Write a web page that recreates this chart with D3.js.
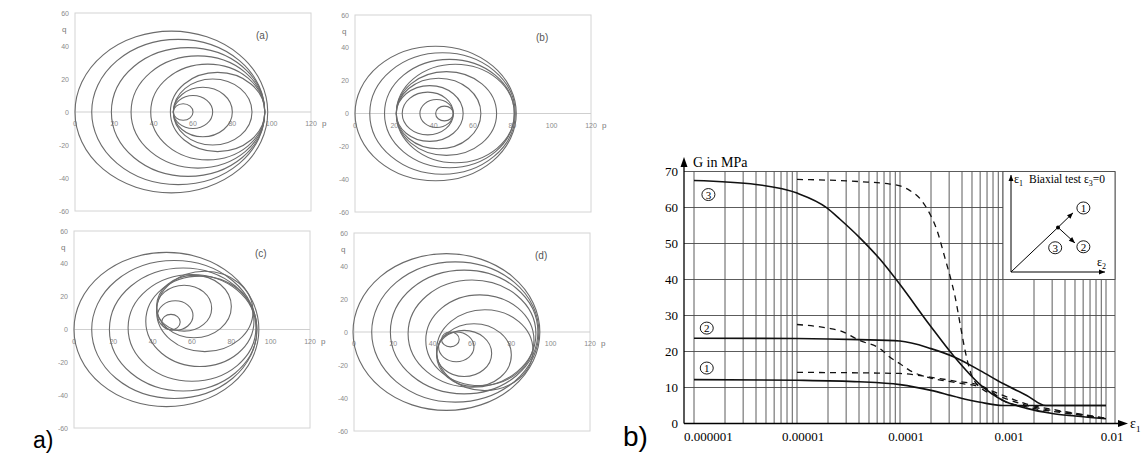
<!DOCTYPE html>
<html>
<head>
<meta charset="utf-8">
<script src="https://cdn.jsdelivr.net/npm/d3@7"></script>
<style>
  html, body { margin: 0; padding: 0; background: #fff; }
  svg { display: block; }
</style>
</head>
<body>
<div id="chart"></div>
<script>
// ---------- datos: a) superficies en el plano p-q ----------
const pTicks = [0, 20, 40, 60, 80, 100, 120];
const qTicks = [60, 40, 20, 0, -20, -40, -60];
const panelNames = ["(a)", "(b)", "(c)", "(d)"];

// cada círculo: [p centro, q centro, radio]
const circlesA = [[49, 0, 49], [52.5, 0, 44], [57.5, 0, 39], [62.5, 0, 34], [67.5, 0, 29],
                  [72.5, 0, 24], [70, 0, 20], [65, 0, 15], [60, 0, 10], [55, 0, 5]];
const circlesB = [[41, 0, 41], [44.5, 0, 37], [48, 0, 33], [51, 0, 30], [46.5, 0, 25.5],
                  [42.5, 0, 21.5], [38, 0, 17], [37, 0, 13], [41.5, 0, 8.5], [45.5, 0, 4.5]];
const circlesC = [[47, 0, 47], [51, 0, 42], [55.5, 0, 37.5], [60, 1, 32.5], [64, 5, 27.5],
                  [66.5, 11, 24.5], [61, 14, 19], [56, 13, 14], [51.5, 8.5, 9], [49.3, 4.5, 4.7]];
const circlesD = [[47, 0, 47.5], [51.5, 0, 42.5], [56, 0, 37.5], [60, -1, 32.5], [64, -5, 27.5],
                  [66.5, -11, 24.5], [61, -14, 19], [56, -13, 14], [52, -9, 9], [49, -4.5, 4.5]];

// ---------- datos: b) G frente a deformación ----------
const strainTicks = [1e-6, 1e-5, 1e-4, 1e-3, 1e-2];
const strainLabels = ["0.000001", "0.00001", "0.0001", "0.001", "0.01"];
const gTicks = [0, 10, 20, 30, 40, 50, 60, 70];

// [deformación, G]
const solid3 = [[1e-6, 67.5], [4e-6, 66.4], [1e-5, 64], [1.95e-5, 59.9], [2.6e-5, 56.8],
                [4.1e-5, 51.5], [6.4e-5, 45.6], [1e-4, 38.6], [1.95e-4, 27.3], [3.4e-4, 18.4],
                [6e-4, 10.8], [1e-3, 6.4], [1.7e-3, 4.2], [3e-3, 2.8], [5e-3, 2.1], [1e-2, 1.3]];
const solid2 = [[1e-6, 23.7], [1e-5, 23.6], [4e-5, 23.3], [1e-4, 22.9], [2e-4, 20.8],
                [3.4e-4, 18.4], [6e-4, 14.7], [1e-3, 11.1], [1.7e-3, 7.8], [2.6e-3, 5], [1e-2, 5]];
const solid1 = [[1e-6, 12.2], [1e-5, 12], [4e-5, 11.6], [1e-4, 10.8], [2e-4, 9.2],
                [3.4e-4, 7.5], [6e-4, 5.9], [1e-3, 5], [1e-2, 5]];
const dashed3 = [[1e-5, 67.8], [4e-5, 67.2], [8e-5, 66.5], [1e-4, 66], [1.25e-4, 64.7],
                 [1.56e-4, 62.5], [1.87e-4, 59.2], [2.29e-4, 53.6], [2.73e-4, 46], [3.2e-4, 38.8],
                 [3.42e-4, 35.3], [3.83e-4, 27.7], [4.28e-4, 20.3], [4.78e-4, 14.7], [6e-4, 10],
                 [1e-3, 7.2], [1.7e-3, 5], [4.8e-3, 2.8], [1e-2, 1.4]];
const dashed2 = [[1e-5, 27.5], [2e-5, 26.5], [2.6e-5, 25.8], [4.1e-5, 23], [6.4e-5, 20.8],
                 [8e-5, 18.4], [1e-4, 16.6], [1.25e-4, 14.7], [1.95e-4, 12.7], [3.4e-4, 11.4],
                 [6e-4, 10.2], [1e-3, 7.8], [1.7e-3, 5.4], [3.5e-3, 3.6], [1e-2, 1.5]];
const dashed1 = [[1e-5, 14.2], [1e-4, 13.9], [1.95e-4, 12.9], [3.4e-4, 11.8], [6e-4, 10.6],
                 [8e-4, 8.5], [1e-3, 6.4], [1.7e-3, 4.6], [4.8e-3, 2.6], [1e-2, 1.4]];

// etiquetas con círculo: [número, deformación, G]
const curveTags = [["3", 1.38e-6, 63.6], ["2", 1.33e-6, 26.5], ["1", 1.33e-6, 15.4]];

// ---------- lienzo ----------
const width = 1143, height = 453;
const svg = d3.select("#chart").append("svg")
    .attr("width", width)
    .attr("height", height);

// ---------- a) cuatro paneles ----------
const panels = [
  { left: 75,  right: 311, top: 13,  bottom: 211, circles: circlesA },
  { left: 355, right: 591, top: 15,  bottom: 212, circles: circlesB },
  { left: 74,  right: 310, top: 231, bottom: 428, circles: circlesC },
  { left: 354, right: 590, top: 233, bottom: 431, circles: circlesD }
];

panels.forEach((pn, i) => {
  const px = d3.scaleLinear().domain([0, 120]).range([pn.left, pn.right]);
  const py = d3.scaleLinear().domain([-60, 60]).range([pn.bottom, pn.top]);
  const g = svg.append("g");

  g.append("rect")
      .attr("x", pn.left).attr("y", pn.top)
      .attr("width", pn.right - pn.left).attr("height", pn.bottom - pn.top)
      .attr("fill", "none").attr("stroke", "#d4d4d4").attr("stroke-width", 1);

  g.append("line")
      .attr("x1", px(0)).attr("x2", px(120))
      .attr("y1", py(0)).attr("y2", py(0))
      .attr("stroke", "#cfcfcf").attr("stroke-width", 1);

  // etiquetas de los ejes
  g.selectAll("text.pt").data(pTicks).join("text")
      .attr("class", "pt")
      .attr("x", d => px(d)).attr("y", py(0) + 14)
      .attr("text-anchor", "middle")
      .style("font", "7px 'Liberation Sans', Arial, sans-serif")
      .attr("fill", "#8a8a8a")
      .text(d => d);

  g.selectAll("text.qt").data(qTicks).join("text")
      .attr("class", "qt")
      .attr("x", pn.left - 6).attr("y", d => py(d) + 2.5)
      .attr("text-anchor", "end")
      .style("font", "7px 'Liberation Sans', Arial, sans-serif")
      .attr("fill", "#8a8a8a")
      .text(d => d);

  g.append("text")
      .attr("x", pn.left - 13).attr("y", pn.top + 19)
      .style("font", "8px 'Liberation Sans', Arial, sans-serif")
      .attr("fill", "#777")
      .text("q");

  g.append("text")
      .attr("x", pn.right + 11).attr("y", py(0) + 14)
      .style("font", "8px 'Liberation Sans', Arial, sans-serif")
      .attr("fill", "#777")
      .text("p");

  g.append("text")
      .attr("x", pn.left + 181).attr("y", pn.top + 26)
      .style("font", "10px 'Liberation Sans', Arial, sans-serif")
      .attr("fill", "#555")
      .text(panelNames[i]);

  // círculos (elipses por las escalas distintas en p y q)
  g.selectAll("ellipse").data(pn.circles).join("ellipse")
      .attr("cx", d => px(d[0]))
      .attr("cy", d => py(d[1]))
      .attr("rx", d => px(d[0] + d[2]) - px(d[0]))
      .attr("ry", d => py(d[1]) - py(d[1] + d[2]))
      .attr("fill", "none")
      .attr("stroke", "#6b6b6b")
      .attr("stroke-width", 1.1);
});

svg.append("text")
    .attr("x", 33).attr("y", 448)
    .style("font", "23px 'Liberation Sans', Arial, sans-serif")
    .attr("fill", "#000")
    .text("a)");

svg.append("text")
    .attr("x", 623).attr("y", 446)
    .style("font", "28px 'Liberation Sans', Arial, sans-serif")
    .attr("fill", "#000")
    .text("b)");

// ---------- b) gráfico G – deformación ----------
const axisX0 = 684, frameRight = 1115;
const x = d3.scaleLog().domain([1e-6, 1e-2]).range([694, 1106]);
const y = d3.scaleLinear().domain([0, 70]).range([423.5, 171.5]);
const serif = "'Liberation Serif', 'DejaVu Serif', serif";
const gb = svg.append("g");

// rejilla vertical (1..9 por década)
gb.selectAll("line.vg").data(x.ticks()).join("line")
    .attr("class", "vg")
    .attr("x1", d => x(d)).attr("x2", d => x(d))
    .attr("y1", y(70)).attr("y2", y(0))
    .attr("stroke", "#4a4a4a").attr("stroke-width", 0.9);

// rejilla horizontal
gb.selectAll("line.hg").data(gTicks.filter(d => d > 0)).join("line")
    .attr("class", "hg")
    .attr("x1", axisX0).attr("x2", frameRight)
    .attr("y1", d => y(d)).attr("y2", d => y(d))
    .attr("stroke", "#4a4a4a").attr("stroke-width", 0.9);

gb.append("line")
    .attr("x1", frameRight).attr("x2", frameRight)
    .attr("y1", y(70)).attr("y2", y(0))
    .attr("stroke", "#4a4a4a").attr("stroke-width", 0.9);

// ejes con flecha
gb.append("line")
    .attr("x1", axisX0).attr("x2", axisX0)
    .attr("y1", y(0)).attr("y2", 162)
    .attr("stroke", "#000").attr("stroke-width", 1.3);
gb.append("path")
    .attr("d", `M${axisX0},157 L${axisX0 - 3.5},167 L${axisX0 + 3.5},167 Z`)
    .attr("fill", "#000");
gb.append("line")
    .attr("x1", axisX0).attr("x2", 1122)
    .attr("y1", y(0)).attr("y2", y(0))
    .attr("stroke", "#000").attr("stroke-width", 1.3);
gb.append("path")
    .attr("d", `M1128,${y(0)} L1118,${y(0) - 3.5} L1118,${y(0) + 3.5} Z`)
    .attr("fill", "#000");

gb.append("text")
    .attr("x", 693).attr("y", 167)
    .style("font", `14px ${serif}`)
    .text("G in MPa");

const eps1 = gb.append("text")
    .attr("x", 1130).attr("y", 428)
    .style("font", `14px ${serif}`);
eps1.append("tspan").text("ε");
eps1.append("tspan").attr("dy", 4).style("font-size", "9px").text("1");

gb.selectAll("text.gt").data(gTicks).join("text")
    .attr("class", "gt")
    .attr("x", 678).attr("y", d => y(d) + 4.5)
    .attr("text-anchor", "end")
    .style("font", `13px ${serif}`)
    .text(d => d);

gb.selectAll("text.st").data(strainTicks).join("text")
    .attr("class", "st")
    .attr("x", (d, i) => i === 0 ? axisX0 : x(d) + 6)
    .attr("y", 441)
    .attr("text-anchor", (d, i) => i === 0 ? "start" : "middle")
    .style("font", `13px ${serif}`)
    .text((d, i) => strainLabels[i]);

// recuadro del ensayo biaxial
gb.append("rect")
    .attr("x", x(1e-3)).attr("y", y(70))
    .attr("width", frameRight - x(1e-3)).attr("height", y(40) - y(70))
    .attr("fill", "#fff").attr("stroke", "#4a4a4a").attr("stroke-width", 0.9);

const ix = d3.scaleLinear().domain([0, 1]).range([1011, 1105]);
const iy = d3.scaleLinear().domain([0, 1]).range([272, 175]);
const arrow = (x1, y1, x2, y2) => {
  const a = Math.atan2(y2 - y1, x2 - x1), L = 6, W = 2.5;
  gb.append("line").attr("x1", x1).attr("y1", y1).attr("x2", x2).attr("y2", y2)
      .attr("stroke", "#000").attr("stroke-width", 1);
  gb.append("path")
      .attr("d", `M${x2},${y2} L${x2 - L * Math.cos(a) + W * Math.sin(a)},${y2 - L * Math.sin(a) - W * Math.cos(a)} ` +
                 `L${x2 - L * Math.cos(a) - W * Math.sin(a)},${y2 - L * Math.sin(a) + W * Math.cos(a)} Z`)
      .attr("fill", "#000");
};
arrow(ix(0), iy(0), ix(0), iy(1));
arrow(ix(0), iy(0), ix(1), iy(0));
gb.append("line").attr("x1", ix(0)).attr("y1", iy(0)).attr("x2", ix(0.5)).attr("y2", iy(0.46))
    .attr("stroke", "#000").attr("stroke-width", 1);
arrow(ix(0.5), iy(0.46), ix(0.66), iy(0.61));
arrow(ix(0.5), iy(0.46), ix(0.68), iy(0.30));
gb.append("circle").attr("cx", ix(0.5)).attr("cy", iy(0.46)).attr("r", 2).attr("fill", "#000");

const t1 = gb.append("text").attr("x", 1014).attr("y", 183).style("font", `12px ${serif}`);
t1.append("tspan").text("ε");
t1.append("tspan").attr("dy", 3).style("font-size", "8px").text("1");
const t2 = gb.append("text").attr("x", 1029).attr("y", 183).style("font", `11.5px ${serif}`);
t2.append("tspan").text("Biaxial test ε");
t2.append("tspan").attr("dy", 3).style("font-size", "8px").text("3");
t2.append("tspan").attr("dy", -3).text("=0");
const t3 = gb.append("text").attr("x", 1097).attr("y", 266).style("font", `12px ${serif}`);
t3.append("tspan").text("ε");
t3.append("tspan").attr("dy", 3).style("font-size", "8px").text("2");

const circledTag = (cx, cy, label) => {
  gb.append("ellipse").attr("cx", cx).attr("cy", cy).attr("rx", 6.5).attr("ry", 6)
      .attr("fill", "#fff").attr("stroke", "#000").attr("stroke-width", 0.9);
  gb.append("text").attr("x", cx).attr("y", cy + 4)
      .attr("text-anchor", "middle")
      .style("font", `11px ${serif}`)
      .text(label);
};
circledTag(ix(0.77), iy(0.66), "1");
circledTag(ix(0.77), iy(0.26), "2");
circledTag(ix(0.47), iy(0.25), "3");

// curvas
const line = d3.line()
    .x(d => x(d[0]))
    .y(d => y(d[1]))
    .curve(d3.curveMonotoneX);

[solid1, solid2, solid3].forEach(s => {
  gb.append("path").datum(s)
      .attr("d", line)
      .attr("fill", "none")
      .attr("stroke", "#111")
      .attr("stroke-width", 1.6);
});
[dashed1, dashed2, dashed3].forEach(s => {
  gb.append("path").datum(s)
      .attr("d", line)
      .attr("fill", "none")
      .attr("stroke", "#111")
      .attr("stroke-width", 1.3)
      .attr("stroke-dasharray", "6,5");
});

curveTags.forEach(t => circledTag(x(t[1]), y(t[2]), t[0]));
</script>
</body>
</html>
